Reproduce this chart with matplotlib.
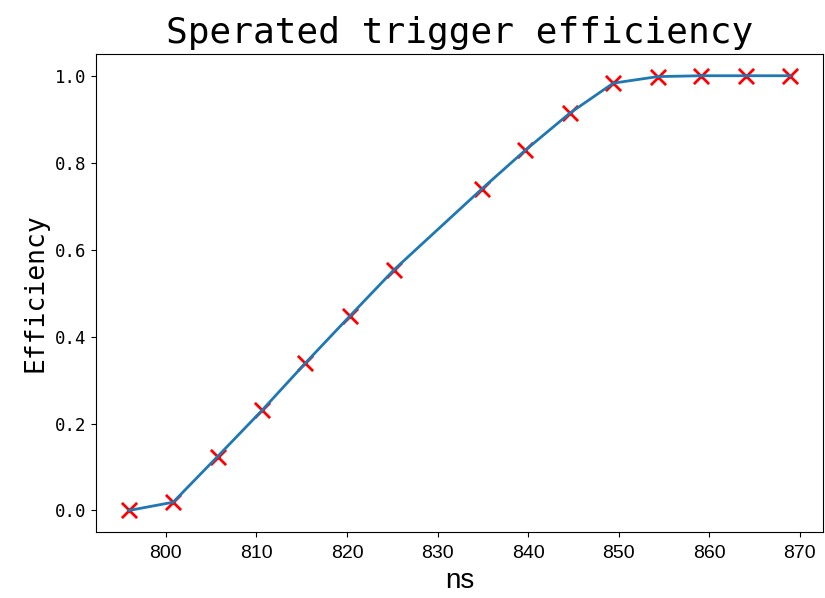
import matplotlib
matplotlib.use("Agg")
import matplotlib.pyplot as plt

# 读图得到的数据
ns = [795.9, 800.8, 805.7, 810.6, 815.4, 820.3, 825.2, 834.9,
      839.7, 844.6, 849.4, 854.3, 859.1, 864.0, 868.9]
eff = [0.000, 0.019, 0.124, 0.230, 0.339, 0.447, 0.554, 0.740,
       0.829, 0.914, 0.983, 0.998, 1.000, 1.000, 1.000]

mono = ['DejaVu Sans Mono']
sans = ['Liberation Sans', 'DejaVu Sans']

fig = plt.figure(figsize=(8.25, 5.98), dpi=100)
ax = fig.add_subplot(111)
fig.subplots_adjust(left=0.116, right=0.9976, top=0.9097, bottom=0.110)

ax.scatter(ns, eff, marker='x', c='red', s=120, linewidths=2)
ax.plot(ns, eff, color='tab:blue', linewidth=2)

ax.set_title('Sperated trigger efficiency', fontsize=26, family=mono, pad=8)
ax.set_xlabel('ns', fontsize=20, family=sans, labelpad=4)
ax.set_ylabel('Efficiency', fontsize=19, family=mono)

ax.tick_params(axis='x', pad=6)
for lab in ax.get_xticklabels():
    lab.set_family(sans)
    lab.set_fontsize(14)
for lab in ax.get_yticklabels():
    lab.set_family(mono)
    lab.set_fontsize(12.5)

fig.savefig('out.png', dpi=100)
